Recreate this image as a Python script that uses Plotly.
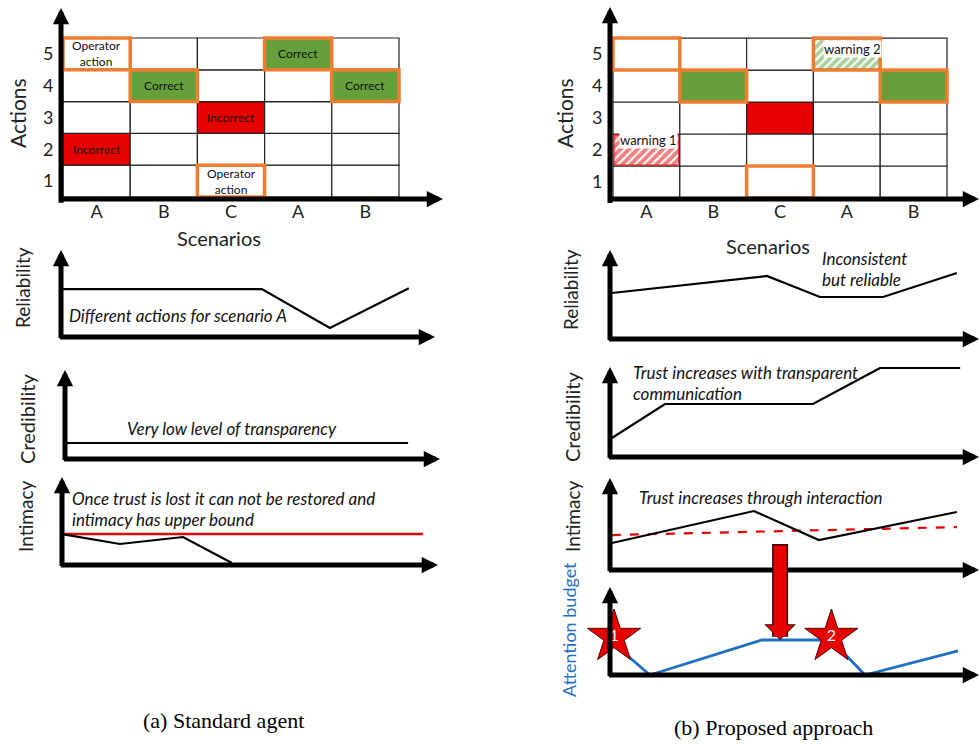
import plotly.graph_objects as go

W, H = 979, 744

# ---------------- data ----------------
scenarios = ["A", "B", "C", "A", "B"]
actions = [1, 2, 3, 4, 5]

# (a) Standard agent - decision grid
std_col = [0, 0, 1, 2, 2, 3, 4]
std_act = [5, 2, 4, 3, 1, 5, 4]
std_state = ["operator", "incorrect", "correct", "incorrect", "operator", "correct", "correct"]
std_label = ["Operator<br>action", "Incorrect", "Correct", "Incorrect", "Operator<br>action", "Correct", "Correct"]

# (b) Proposed approach - decision grid
prop_col = [0, 0, 1, 2, 2, 3, 4]
prop_act = [5, 2, 4, 3, 1, 5, 4]
prop_state = ["operator", "warn_incorrect", "correct", "incorrect", "operator", "warn_correct", "correct"]
prop_label = ["", "warning 1", "", "", "", "warning 2", ""]

# (a) trust curves (time, level)
std_rel_t = [0.03, 5.37, 7.19, 9.3]
std_rel_v = [5.5, 5.5, 1.03, 5.6]
std_cred_t = [0.05, 9.15]
std_cred_v = [1.8, 1.8]
std_int_t = [0.0, 1.54, 3.22, 4.52]
std_int_v = [3.52, 2.39, 3.18, 0.23]
std_bound_t = [0.0, 9.6]
std_bound_v = [3.52, 3.52]

# (b) trust curves
prop_rel_t = [0.05, 4.25, 5.69, 7.4, 9.4]
prop_rel_v = [5.17, 7.08, 4.72, 4.72, 7.42]
prop_cred_t = [0.05, 1.49, 5.5, 7.32, 9.49]
prop_cred_v = [2.11, 5.89, 5.89, 9.89, 9.89]
prop_int_t = [0.05, 3.9, 5.66, 9.4]
prop_int_v = [2.93, 6.41, 3.26, 6.3]
prop_ref_t = [0.05, 9.4]
prop_ref_v = [3.8, 4.67]
att_t = [0.05, 1.08, 4.12, 6.0, 6.91, 9.43]
att_v = [3.75, 0.0, 3.98, 3.98, 0.0, 2.73]
warn_t = [0.11, 6.0]
warn_v = [4.32, 4.32]
warn_names = ["1", "2"]
arrow_t = 4.61
arrow_v = 3.98

# ---------------- styles ----------------
RED = "#E60000"
GREEN = "#66A03B"
ORANGE = "#EE7D31"
BLUE = "#1F6FC4"
SANS = "Lato, 'Open Sans', sans-serif"
SERIF = "'Liberation Serif', 'Times New Roman', serif"

FILL = {"incorrect": RED, "correct": GREEN, "operator": "white",
        "warn_incorrect": "white", "warn_correct": "white"}
ORANGE_BORDER = {"operator", "correct", "warn_correct"}
HATCH = {"warn_incorrect": RED, "warn_correct": "#5E9E3A"}


def px_x(p):
    return p / W


def px_y(p):
    return 1 - p / H


# panel pixel boxes: (left, right, bottom, top) and data ranges
panels = {
    1: dict(box=(61, 443, 199, 8), xr=[-0.03, 5.655], yr=[0.437, 6.443]),
    2: dict(box=(61, 435, 337, 250), xr=[0, 10], yr=[0, 10]),
    3: dict(box=(65, 440, 459, 370), xr=[0, 10], yr=[0, 10]),
    4: dict(box=(62, 438, 565, 477), xr=[0, 10], yr=[0, 10]),
    5: dict(box=(610, 979, 199, 7), xr=[-0.045, 5.479], yr=[0.469, 6.47]),
    6: dict(box=(610, 979, 339, 250), xr=[0, 10], yr=[0, 10]),
    7: dict(box=(610, 979, 457, 367), xr=[0, 10], yr=[0, 10]),
    8: dict(box=(610, 979, 570, 478), xr=[0, 10], yr=[0, 10]),
    9: dict(box=(610, 979, 675, 587), xr=[0, 10], yr=[0, 10]),
}

fig = go.Figure()
layout = dict(
    width=W, height=H, margin=dict(l=0, r=0, t=0, b=0),
    paper_bgcolor="white", plot_bgcolor="rgba(0,0,0,0)",
    showlegend=False, barmode="overlay", template="none",
    font=dict(family=SANS, color="black"),
)


def sfx(i):
    return "" if i == 1 else str(i)


for i, p in panels.items():
    l, r, b, t = p["box"]
    xa = dict(domain=[px_x(l), min(1, px_x(r))], range=p["xr"], anchor="y" + sfx(i),
              showgrid=False, zeroline=False, showline=False, showticklabels=False,
              ticks="", fixedrange=True)
    ya = dict(domain=[px_y(b), px_y(t)], range=p["yr"], anchor="x" + sfx(i),
              showgrid=False, zeroline=False, showline=False, showticklabels=False,
              ticks="", fixedrange=True)
    if i in (1, 5):
        xa.update(showticklabels=True, tickvals=[c + 0.5 for c in range(len(scenarios))],
                  ticktext=scenarios, tickfont=dict(size=18, color="#222"))
        ya.update(showticklabels=True, tickvals=actions, ticktext=[str(a) for a in actions],
                  tickfont=dict(size=18, color="#222"),
                  ticks="outside", ticklen=3, tickcolor="rgba(0,0,0,0)")
    layout["xaxis" + sfx(i)] = xa
    layout["yaxis" + sfx(i)] = ya


def add_grid(ax, cols, acts, states, labels, label_pos, label_size):
    xref, yref = "x" + sfx(ax), "y" + sfx(ax)
    lookup = {(c, a): s for c, a, s in zip(cols, acts, states)}
    gx, gb, gc = [], [], []
    for c in range(len(scenarios)):
        for a in actions:
            gx.append(c + 0.5)
            gb.append(a - 0.5)
            gc.append(FILL.get(lookup.get((c, a), ""), "white"))
    fig.add_trace(go.Bar(x=gx, y=[1] * len(gx), base=gb, width=1, xaxis=xref, yaxis=yref,
                         marker=dict(color=gc, line=dict(color="#222", width=1.2)),
                         hoverinfo="skip"))
    # hatched warning cells
    for c, a, s in zip(cols, acts, states):
        if s in HATCH:
            fig.add_trace(go.Bar(x=[c + 0.5], y=[0.94], base=[a - 0.47], width=0.97,
                                 xaxis=xref, yaxis=yref, hoverinfo="skip",
                                 marker=dict(color="white",
                                             line=dict(color=HATCH[s], width=1),
                                             pattern=dict(shape="/", fgcolor=HATCH[s], bgcolor="white",
                                                          size=6, solidity=0.65, fillmode="overlay"))))
    # orange frames
    ox = [c + 0.5 for c, s in zip(cols, states) if s in ORANGE_BORDER]
    ob = [a - 0.5 for a, s in zip(acts, states) if s in ORANGE_BORDER]
    fig.add_trace(go.Bar(x=ox, y=[1] * len(ox), base=ob, width=1, xaxis=xref, yaxis=yref,
                         marker=dict(color="rgba(0,0,0,0)", line=dict(color=ORANGE, width=3.5)),
                         hoverinfo="skip"))
    for c, a, s, lab in zip(cols, acts, states, labels):
        if not lab:
            continue
        dx, dy = label_pos.get(s, (0, 0))
        layout.setdefault("annotations", []).append(dict(
            x=c + 0.5 + dx, y=a + dy, xref=xref, yref=yref, text=lab, showarrow=False,
            xanchor="center", yanchor="middle",
            font=dict(size=label_size, color="#111", family=SANS),
            bgcolor="white" if s in HATCH else "rgba(0,0,0,0)", borderpad=0))


layout["annotations"] = []
add_grid(1, std_col, std_act, std_state, std_label, {}, 12)
add_grid(5, prop_col, prop_act, prop_state, prop_label,
         {"warn_incorrect": (0.03, 0.3), "warn_correct": (0.08, 0.16)}, 13)


def line(ax, t, v, color="black", width=2.2, dash="solid"):
    fig.add_trace(go.Scatter(x=t, y=v, mode="lines", xaxis="x" + sfx(ax), yaxis="y" + sfx(ax),
                             line=dict(color=color, width=width, dash=dash), hoverinfo="skip"))


line(2, std_rel_t, std_rel_v)
line(3, std_cred_t, std_cred_v)
line(4, std_bound_t, std_bound_v, color=RED, width=2.6)
line(4, std_int_t, std_int_v)
line(6, prop_rel_t, prop_rel_v)
line(7, prop_cred_t, prop_cred_v)
line(8, prop_ref_t, prop_ref_v, color=RED, width=2.2, dash="dash")
line(8, prop_int_t, prop_int_v)
line(9, att_t, att_v, color=BLUE, width=2.8)
fig.add_trace(go.Scatter(x=warn_t, y=warn_v, mode="markers+text", xaxis="x9", yaxis="y9",
                         text=warn_names, textposition="middle center", cliponaxis=False,
                         textfont=dict(color="white", size=16, family=SANS),
                         marker=dict(symbol="star", size=40, color=RED,
                                     line=dict(color="#5a0000", width=1)),
                         hoverinfo="skip"))

# axis arrows
for i, p in panels.items():
    xr, yr = p["xr"], p["yr"]
    xref, yref = "x" + sfx(i), "y" + sfx(i)
    ex = (xr[1] - xr[0]) * 0.007
    ey = (yr[1] - yr[0]) * 0.028
    layout["annotations"].append(dict(
        x=xr[1] - 1e-6, y=yr[0], ax=xr[0] - ex, ay=yr[0], xref=xref, yref=yref,
        axref=xref, ayref=yref, text="", showarrow=True, arrowhead=2,
        arrowwidth=5, arrowsize=0.65, arrowcolor="black"))
    layout["annotations"].append(dict(
        x=xr[0], y=yr[1] - 1e-6, ax=xr[0], ay=yr[0] - ey, xref=xref, yref=yref,
        axref=xref, ayref=yref, text="", showarrow=True, arrowhead=2,
        arrowwidth=5, arrowsize=0.65, arrowcolor="black"))

# big red arrow (with dark outline) from intimacy to attention budget
layout["annotations"].append(dict(
    x=arrow_t, y=arrow_v, ax=arrow_t, ay=15.05, xref="x9", yref="y9", axref="x9", ayref="y9",
    text="", showarrow=True, arrowhead=1, arrowwidth=16, arrowsize=0.33, arrowcolor="#3a0000"))
layout["annotations"].append(dict(
    x=arrow_t, y=arrow_v + 0.12, ax=arrow_t, ay=14.9, xref="x9", yref="y9", axref="x9", ayref="y9",
    text="", showarrow=True, arrowhead=1, arrowwidth=13, arrowsize=0.35, arrowcolor=RED))

# panel notes
notes = [
    (2, 3.13, 2.5, "center", "Different actions for scenario A"),
    (3, 4.45, 3.48, "center", "Very low level of transparency"),
    (4, 0.21, 7.6, "left", "Once trust is lost it can not be restored and"),
    (4, 0.21, 5.2, "left", "intimacy has upper bound"),
    (6, 5.69, 9.0, "left", "Inconsistent"),
    (6, 5.69, 6.74, "left", "but reliable"),
    (7, 0.57, 9.44, "left", "Trust increases with transparent"),
    (7, 0.57, 7.11, "left", "communication"),
    (8, 0.73, 7.93, "left", "Trust increases through interaction"),
]
for ax, x, y, anchor, txt in notes:
    layout["annotations"].append(dict(
        x=x, y=y, xref="x" + sfx(ax), yref="y" + sfx(ax), xanchor=anchor, yanchor="middle",
        text="<i>" + txt + "</i>",
        showarrow=False, font=dict(size=17, family=SANS, color="#111")))

# titles (paper coordinates)
titles = [
    (18, 113, -90, "Actions", 21, "#222"),
    (565, 113, -90, "Actions", 21, "#222"),
    (219, 238, 0, "Scenarios", 20, "#222"),
    (768, 246, 0, "Scenarios", 20, "#222"),
    (22, 288, -90, "Reliability", 19, "#222"),
    (27, 419, -90, "Credibility", 20, "#222"),
    (25, 517, -90, "Intimacy", 19, "#222"),
    (570, 290, -90, "Reliability", 19, "#222"),
    (572, 417, -90, "Credibility", 20, "#222"),
    (572, 517, -90, "Intimacy", 19, "#222"),
    (569, 630, -90, "Attention budget", 18, BLUE),
]
for x, y, ang, txt, size, col in titles:
    layout["annotations"].append(dict(
        x=px_x(x), y=px_y(y), xref="paper", yref="paper", text=txt, textangle=ang,
        xanchor="center", yanchor="middle",
        showarrow=False, font=dict(size=size, family=SANS, color=col)))

for x, y, txt in [(223, 720, "(a) Standard agent"), (773, 727, "(b) Proposed approach")]:
    layout["annotations"].append(dict(
        x=px_x(x), y=px_y(y), xref="paper", yref="paper", text=txt, showarrow=False,
        xanchor="center", yanchor="middle",
        font=dict(size=22, family=SERIF, color="black")))

fig.update_layout(**layout)
fig.write_html("out.html", config={"displayModeBar": False},
               post_script="document.body.style.margin='0px';document.body.style.overflow='hidden';")
